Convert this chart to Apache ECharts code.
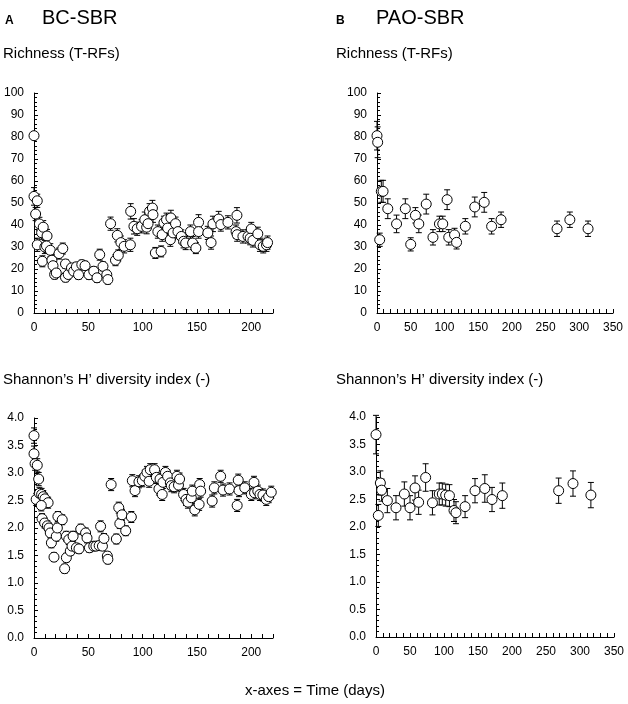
<!DOCTYPE html>
<html>
<head>
  <meta charset="UTF-8">
  <script src="https://cdn.jsdelivr.net/npm/echarts@6/dist/echarts.min.js"></script>
  <title></title>
  <style>
    body { margin: 0; background: #fff; }
    #chart { width: 628px; height: 704px; }
  </style>
</head>
<body>
  <div id="chart"></div>
  <script>
    // BC-SBR richness (top left)
    const bcRichDays = [0, 0, 3, 1.5, 3, 5, 7, 8.5, 7.7, 10, 12, 11.5, 15, 16.5, 17.5, 19, 20.5, 23, 26.5, 29, 29, 31.5,
      34.5, 36.5, 39, 41, 44, 47, 50.6, 55, 58, 60.5, 63.5, 67, 68, 70.5, 75, 77.6, 76.7, 80, 83, 88.7, 89, 92, 95, 99,
      102, 103.7, 105, 106.4, 109, 109.5, 111.7, 114, 117, 118, 119.6, 122, 123, 125.5, 126, 128, 130.3, 132.5, 135.6,
      137.7, 139.6, 144, 146, 149, 151.5, 151.5, 160, 163, 164.7, 170, 172, 178.5, 186.8, 186, 187, 192.3, 197, 200,
      199, 201.5, 206, 208, 211, 214, 215];
    const bcRich = [80.6, 53, 51, 45, 31, 40.5, 36.5, 39, 23.5, 30, 35, 30.5, 28.5, 24, 21.5, 17.5, 18.2, 27, 29.3, 22.3,
      16.2, 17.5, 20.5, 19, 21, 17.4, 22, 21.5, 17.4, 19, 16, 26.5, 21.2, 17.4, 15.2, 40.6, 24, 26.2, 35.3, 32, 30.3,
      31, 46.2, 39.4, 38.3, 39.4, 42.4, 39, 40.6, 46.2, 47.7, 44.7, 27.3, 37, 28, 35.6, 41, 42.4, 38.6, 33.3, 43.2,
      36.4, 40.6, 37, 34.8, 32.6, 31.8, 37, 31.8, 29.5, 41.2, 37, 36.4, 32, 40.5, 42.7, 40.2, 41.2, 44.4, 37, 35.6,
      34.8, 34.8, 38.2, 34, 33, 36, 31, 30.3, 31, 32];
    const bcRichErr = [1, 4, 3, 3, 3, 3, 3, 3, 2.5, 3, 3, 3, 3, 2.5, 2.5, 2, 2, 2.5, 2.5, 2, 2, 2, 2, 2, 2, 2, 2, 2, 2,
      2, 2, 2.5, 2, 2, 2, 3, 2.5, 2.5, 3, 3, 3, 3, 3.5, 3.5, 3, 3, 3.5, 3, 3, 3.5, 3.5, 3.5, 2.5, 3, 2.5, 3, 3, 3, 3,
      3, 3.5, 3, 3, 3, 3, 3, 3, 3, 3, 2.5, 3.5, 3, 3, 3, 3.5, 3.5, 3, 3, 3.5, 3, 3, 3, 3, 3, 3, 3, 3, 3, 3, 3, 3];

    // BC-SBR Shannon (bottom left)
    const bcShanDays = [0, 0, 1, 3, 4.3, 2, 5, 7, 8.5, 10, 13, 6.7, 7.4, 9.8, 12.3, 13.8, 15, 16, 18.4, 20.5, 21.5, 22,
      26, 28.2, 29.8, 29.8, 32, 33.4, 35, 36, 39, 41.4, 43, 47.5, 48.8, 51, 55, 57, 60, 61.3, 63, 64.4, 67.5, 68, 71,
      75.8, 78, 79, 81, 84.4, 89.6, 90.5, 93, 96.6, 99.7, 102, 104, 106, 107, 111, 112.6, 115, 116, 118, 118.7, 121,
      123, 125.5, 126.4, 129, 131.6, 133, 134, 137.7, 140, 141.7, 144.8, 145.7, 148, 152, 152.5, 153.4, 164, 166,
      171.8, 174, 180, 187, 188, 188.7, 194, 200, 202.5, 203, 206, 208, 210.7, 213.8, 216, 218.4];
    const bcShan = [3.68, 3.35, 3.17, 3.14, 2.89, 2.52, 2.63, 2.61, 2.57, 2.53, 2.46, 2.41, 2.17, 2.09, 2.04, 2.0, 1.91,
      1.73, 1.47, 1.85, 2.0, 2.21, 2.15, 1.26, 1.46, 1.85, 1.79, 1.58, 1.67, 1.85, 1.64, 1.62, 1.98, 1.91, 1.82, 1.64,
      1.67, 1.67, 1.68, 2.03, 1.67, 1.81, 1.49, 1.43, 2.79, 1.8, 2.37, 2.08, 2.24, 1.95, 2.2, 2.86, 2.68, 2.84, 2.86,
      2.94, 3.01, 2.85, 3.06, 3.06, 2.92, 2.71, 2.89, 2.61, 2.83, 3.01, 2.94, 2.82, 2.77, 2.75, 2.94, 2.78, 2.89, 2.61,
      2.52, 2.47, 2.55, 2.67, 2.33, 2.43, 2.79, 2.67, 2.49, 2.73, 2.94, 2.69, 2.71, 2.41, 2.87, 2.68, 2.73, 2.61, 2.83,
      2.64, 2.67, 2.61, 2.6, 2.52, 2.57, 2.65];
    const bcShanErr = [0.14, 0.14, 0.12, 0.12, 0.12, 0.11, 0.11, 0.11, 0.11, 0.1, 0.1, 0.1, 0.09, 0.09, 0.09, 0.09,
      0.09, 0.09, 0.08, 0.09, 0.09, 0.09, 0.09, 0.08, 0.08, 0.09, 0.09, 0.08, 0.08, 0.09, 0.08, 0.08, 0.09, 0.09, 0.09,
      0.08, 0.08, 0.08, 0.08, 0.1, 0.08, 0.09, 0.08, 0.08, 0.11, 0.09, 0.1, 0.09, 0.1, 0.09, 0.1, 0.11, 0.11,
      0.11, 0.11, 0.11, 0.11, 0.11, 0.11, 0.11, 0.11, 0.11, 0.11, 0.11, 0.11, 0.11, 0.11, 0.11, 0.11, 0.11, 0.11,
      0.11, 0.11, 0.11, 0.11, 0.11, 0.11, 0.11, 0.11, 0.11, 0.11, 0.11, 0.11, 0.11, 0.11, 0.11, 0.11, 0.11, 0.11,
      0.11, 0.11, 0.11, 0.11, 0.11, 0.11, 0.11, 0.11, 0.11, 0.11, 0.11];

    // PAO-SBR richness (top right)
    const paoRichDays = [0, 1, 4, 6.4, 9, 16, 29, 42, 50, 57, 62, 73, 83, 92.6, 97.5, 104, 106.4, 115, 118, 131, 145,
      159, 170, 184, 267, 286, 313];
    const paoRich = [80.6, 77.6, 33.3, 55.3, 55.3, 47.4, 40.5, 47.4, 31.2, 44.4, 40.5, 49.5, 34.4, 40.5, 40.5, 51.5,
      34.4, 35.5, 32.1, 39.4, 48.2, 50.3, 39.4, 42.4, 38.3, 42.4, 38.3];
    const paoRichErr = [6.5, 7, 3, 5, 5, 4.5, 4, 4.5, 3, 3.5, 4, 4.5, 3.5, 3.5, 3.5, 4.5, 3.5, 3, 3, 3.5, 4.5, 4.5,
      3.5, 3.5, 3.5, 3.5, 3.5];

    // PAO-SBR Shannon (bottom right)
    const paoShanDays = [0, 3.4, 6.4, 8.3, 16.7, 29.4, 41.7, 50, 57.4, 62.7, 73, 83, 93, 97.5, 102.5, 108, 114.7, 117.6,
      131, 145.6, 160, 170.6, 185.8, 268.6, 289.7, 316];
    const paoShan = [3.68, 2.21, 2.8, 2.67, 2.48, 2.35, 2.6, 2.35, 2.71, 2.45, 2.9, 2.44, 2.6, 2.6, 2.58, 2.57, 2.3,
      2.26, 2.37, 2.66, 2.7, 2.5, 2.57, 2.66, 2.79, 2.58];
    const paoShanErr = [0.35, 0.2, 0.22, 0.2, 0.22, 0.22, 0.22, 0.22, 0.22, 0.22, 0.25, 0.22, 0.2, 0.2, 0.2, 0.2, 0.2,
      0.2, 0.2, 0.22, 0.25, 0.22, 0.23, 0.23, 0.23, 0.23];

    const FONT = '"Liberation Sans", Arial, sans-serif';

    function rows(days, vals, errs) {
      return days.map((d, i) => [d, vals[i], errs[i]]);
    }

    function errBars(params, api) {
      const x = api.value(0), y = api.value(1), e = api.value(2);
      const hi = api.coord([x, y + e]);
      const lo = api.coord([x, y - e]);
      const w = 3;
      const st = { stroke: '#000', lineWidth: 1 };
      return {
        type: 'group',
        children: [
          { type: 'line', shape: { x1: hi[0], y1: hi[1], x2: lo[0], y2: lo[1] }, style: st },
          { type: 'line', shape: { x1: hi[0] - w, y1: hi[1], x2: hi[0] + w, y2: hi[1] }, style: st },
          { type: 'line', shape: { x1: lo[0] - w, y1: lo[1], x2: lo[0] + w, y2: lo[1] }, style: st }
        ]
      };
    }

    const grids = [
      { left: 34, top: 93, width: 239, height: 220 },
      { left: 377, top: 93, width: 236, height: 220 },
      { left: 34, top: 418, width: 239, height: 220 },
      { left: 376, top: 417, width: 238, height: 220 }
    ];

    function xAx(i, max) {
      return {
        type: 'value', gridIndex: i, min: 0, max: max, interval: 10,
        axisLine: { lineStyle: { color: '#000', width: 1 } },
        axisTick: { inside: true, length: 4, lineStyle: { color: '#000' } },
        axisLabel: {
          color: '#000', fontFamily: FONT, fontSize: 12, margin: 9,
          formatter: v => (v % 50 === 0 ? String(v) : '')
        },
        splitLine: { show: false }
      };
    }
    function yAx(i, max, interval, dec) {
      return {
        type: 'value', gridIndex: i, min: 0, max: max, interval: interval,
        axisLine: { show: true, lineStyle: { color: '#000', width: 1 } },
        axisTick: { show: true, inside: true, length: 4, lineStyle: { color: '#000' } },
        minorTick: { show: true, splitNumber: 5, length: 3, lineStyle: { color: '#000' } },
        axisLabel: {
          color: '#000', fontFamily: FONT, fontSize: 12, margin: 10,
          formatter: v => v.toFixed(dec)
        },
        splitLine: { show: false }
      };
    }

    const panels = [
      rows(bcRichDays, bcRich, bcRichErr),
      rows(paoRichDays, paoRich, paoRichErr),
      rows(bcShanDays, bcShan, bcShanErr),
      rows(paoShanDays, paoShan, paoShanErr)
    ];

    const series = [];
    panels.forEach((data, i) => {
      series.push({
        type: 'custom', xAxisIndex: i, yAxisIndex: i, data: data,
        renderItem: errBars, encode: { x: 0, y: 1 }, z: 1, silent: true
      });
      series.push({
        type: 'scatter', xAxisIndex: i, yAxisIndex: i, data: data,
        symbol: 'circle', symbolSize: 10, z: 2,
        itemStyle: { color: '#fff', borderColor: '#000', borderWidth: 1, opacity: 1 }
      });
    });

    const txt = (left, top, text, size, bold) => ({
      type: 'text', left: left, top: top,
      style: { text: text, fill: '#000', font: (bold ? 'bold ' : '') + size + 'px ' + FONT }
    });

    const chart = echarts.init(document.getElementById('chart'));
    chart.setOption({
      animation: false,
      backgroundColor: '#fff',
      grid: grids,
      xAxis: [xAx(0, 220), xAx(1, 350), xAx(2, 220), xAx(3, 350)],
      yAxis: [yAx(0, 100, 10, 0), yAx(1, 100, 10, 0), yAx(2, 4, 0.5, 1), yAx(3, 4, 0.5, 1)],
      series: series,
      graphic: [
        txt(5, 15, 'A', 12, true),
        txt(42, 8, 'BC-SBR', 20, false),
        txt(336, 15, 'B', 12, true),
        txt(376, 8, 'PAO-SBR', 20, false),
        txt(3, 46, 'Richness (T-RFs)', 15, false),
        txt(336, 46, 'Richness (T-RFs)', 15, false),
        txt(3, 372, 'Shannon\u2019s H\u2019 diversity index (-)', 15, false),
        txt(336, 372, 'Shannon\u2019s H\u2019 diversity index (-)', 15, false),
        txt(245, 683, 'x-axes = Time (days)', 15, false)
      ]
    });
  </script>
</body>
</html>
